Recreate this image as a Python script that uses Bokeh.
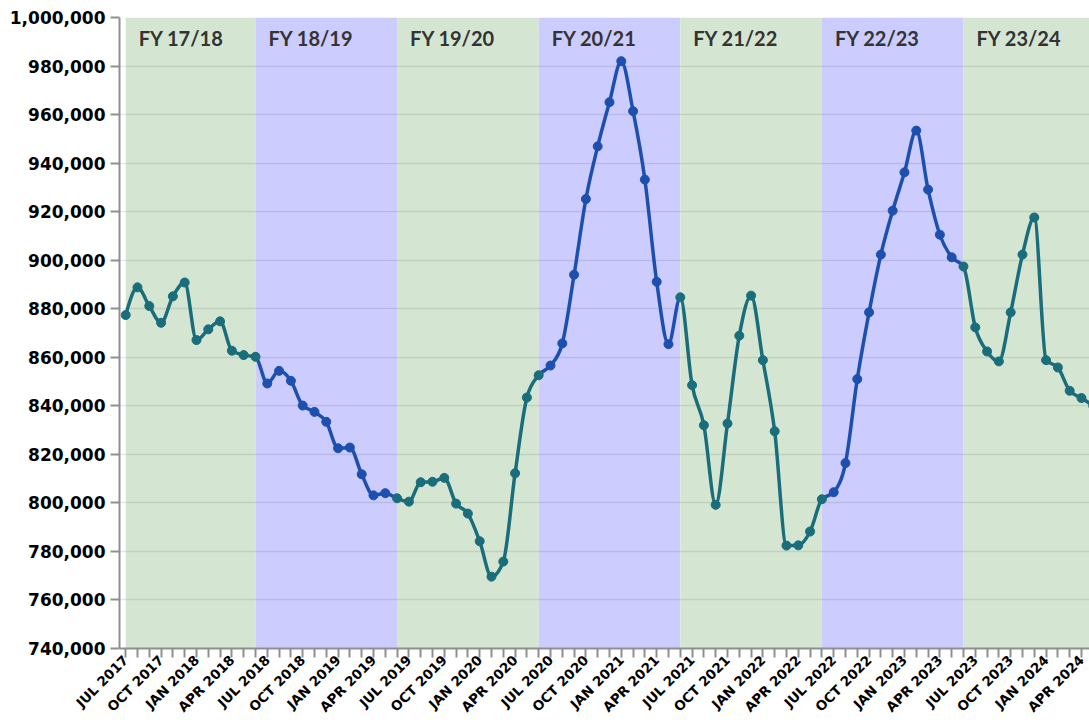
import math
import numpy as np
from bokeh.plotting import figure
from bokeh.models import ColumnDataSource, FixedTicker, NumeralTickFormatter, Range1d
from bokeh.core.properties import value
from bokeh.embed import file_html
from bokeh.resources import INLINE

# Monthly values, Jul 2017 .. May 2024
values = [
    877400, 888800, 881100, 874200, 885100, 890800, 867100, 871500, 874800, 862700, 860900, 860200,  # FY17/18
    849200, 854400, 850300, 840100, 837500, 833400, 822500, 822800, 811800, 803100, 804000, 801900,  # FY18/19
    800500, 808500, 808700, 810300, 799700, 795600, 784200, 769600, 775800, 812200, 843400, 852600,  # FY19/20
    856600, 865700, 894000, 925200, 946900, 965100, 982000, 961400, 933200, 891100, 865400, 884700,  # FY20/21
    848500, 832000, 799200, 832700, 868900, 885400, 858800, 829500, 782400, 782500, 788200, 801500,  # FY21/22
    804400, 816400, 851000, 878500, 902300, 920400, 936200, 953400, 929100, 910500, 901200, 897400,  # FY22/23
    872300, 862400, 858300, 878500, 902300, 917600, 858800, 855800, 846200, 843200, 840000,          # FY23/24
]
start_month = 7  # July 2017

fiscal_years = ["FY 17/18", "FY 18/19", "FY 19/20", "FY 20/21", "FY 21/22", "FY 22/23", "FY 23/24"]

quarter_labels = [
    "JUL 2017", "OCT 2017",
    "JAN 2018", "APR 2018", "JUL 2018", "OCT 2018",
    "JAN 2019", "APR 2019", "JUL 2019", "OCT 2019",
    "JAN 2020", "APR 2020", "JUL 2020", "OCT 2020",
    "JAN 2021", "APR 2021", "JUL 2021", "OCT 2021",
    "JAN 2022", "APR 2022", "JUL 2022", "OCT 2022",
    "JAN 2023", "APR 2023", "JUL 2023", "OCT 2023",
    "JAN 2024", "APR 2024",
]

y_ticks = list(range(740000, 1000001, 20000))

GREEN_BAND = "#d4e6d2"
BLUE_BAND = "#ccccff"
TEAL = "#1a6d7b"
BLUE = "#1d50ae"

n = len(values)
xs = np.arange(n, dtype=float)
ys = np.array(values, dtype=float)

# fiscal-year boundaries (each June)
month_of = [(start_month - 1 + i) % 12 + 1 for i in range(n)]
june_idx = [i for i in range(n) if month_of[i] == 6]
band_start = [0] + june_idx
band_end = june_idx + [june_idx[-1] + 12]
band_color = [GREEN_BAND if k % 2 == 0 else BLUE_BAND for k in range(len(band_start))]

# monotone-X tangents (as in d3 curveMonotoneX)
s = np.diff(ys)
m = np.zeros(n)
for i in range(1, n - 1):
    s0, s1 = s[i - 1], s[i]
    pp = (s0 + s1) / 2.0
    m[i] = (np.sign(s0) + np.sign(s1)) * min(abs(s0), abs(s1), 0.5 * abs(pp))
m[0] = (3 * s[0] - m[1]) / 2.0
m[-1] = (3 * s[-1] - m[-2]) / 2.0

def seg_band(i):
    for k in range(len(band_start)):
        if band_start[k] <= i < band_end[k]:
            return k
    return len(band_start) - 1

seg_teal = [seg_band(i) % 2 == 0 for i in range(n - 1)]

def seg_source(mask):
    idx = [i for i in range(n - 1) if mask[i]]
    return ColumnDataSource(dict(
        x0=[xs[i] for i in idx], y0=[ys[i] for i in idx],
        x1=[xs[i + 1] for i in idx], y1=[ys[i + 1] for i in idx],
        cx0=[xs[i] + 1 / 3 for i in idx], cy0=[ys[i] + m[i] / 3 for i in idx],
        cx1=[xs[i + 1] - 1 / 3 for i in idx], cy1=[ys[i + 1] - m[i + 1] / 3 for i in idx],
    ))

pt_teal = [False] * n
for i in range(n - 1):
    if seg_teal[i]:
        pt_teal[i] = True
        pt_teal[i + 1] = True

p = figure(width=1089, height=723, output_backend="svg", toolbar_location=None,
           x_range=Range1d(-0.525, 81.68), y_range=Range1d(740000, 1000000),
           min_border_left=119, min_border_top=17, min_border_right=0, min_border_bottom=0,
           background_fill_color="white", border_fill_color="white")
p.outline_line_color = None

# fiscal-year bands
bands = p.quad(left=band_start, right=band_end, bottom=740000, top=1000000,
               fill_color=band_color, line_color=None)
bands.level = "image"

p.text(x=band_start, y=[1000000] * len(band_start), text=fiscal_years,
       x_offset=13, y_offset=20.5, text_font=value("Lato"), text_font_style="bold",
       text_font_size="20px", text_color="#333333", text_baseline="alphabetic")

p.bezier(x0="x0", y0="y0", x1="x1", y1="y1", cx0="cx0", cy0="cy0", cx1="cx1", cy1="cy1",
         source=seg_source([not t for t in seg_teal]), line_color=BLUE, line_width=3.5, line_cap="round")
p.bezier(x0="x0", y0="y0", x1="x1", y1="y1", cx0="cx0", cy0="cy0", cx1="cx1", cy1="cy1",
         source=seg_source(seg_teal), line_color=TEAL, line_width=3.5, line_cap="round")

bi = [i for i in range(n) if not pt_teal[i]]
ti = [i for i in range(n) if pt_teal[i]]
p.scatter(x=[xs[i] for i in bi], y=[ys[i] for i in bi], size=9, fill_color=BLUE, line_color=BLUE)
p.scatter(x=[xs[i] for i in ti], y=[ys[i] for i in ti], size=9, fill_color=TEAL, line_color=TEAL)

# grid
p.xgrid.grid_line_color = None
p.ygrid.grid_line_color = "#000000"
p.ygrid.grid_line_alpha = 0.09
p.ygrid.grid_line_width = 1.5
p.ygrid.ticker = FixedTicker(ticks=y_ticks)

# axes
for ax in (p.xaxis[0], p.yaxis[0]):
    ax.axis_line_color = "#8f8f8f"
    ax.axis_line_width = 2
    ax.major_tick_line_color = "#8f8f8f"
    ax.major_tick_line_width = 2
    ax.major_tick_out = 9
    ax.major_tick_in = 0
    ax.minor_tick_line_color = None
    ax.major_label_text_font = "DejaVu Sans"
    ax.major_label_text_font_style = "bold"
    ax.major_label_text_color = "#000000"

p.yaxis.ticker = FixedTicker(ticks=y_ticks)
p.yaxis.formatter = NumeralTickFormatter(format="0,0")
p.yaxis.major_label_text_font_size = "17px"
p.yaxis.major_label_standoff = 5

p.xaxis.ticker = FixedTicker(ticks=list(range(n)))
overrides = {}
for i in range(n):
    overrides[i] = quarter_labels[i // 3] if (i % 3 == 0 and i // 3 < len(quarter_labels)) else ""
p.xaxis.major_label_overrides = overrides
p.xaxis.major_label_orientation = math.pi / 4
p.xaxis.major_label_text_font_size = "13.5px"
p.xaxis.major_label_standoff = 0

open("out.html", "w").write(file_html(p, INLINE))
